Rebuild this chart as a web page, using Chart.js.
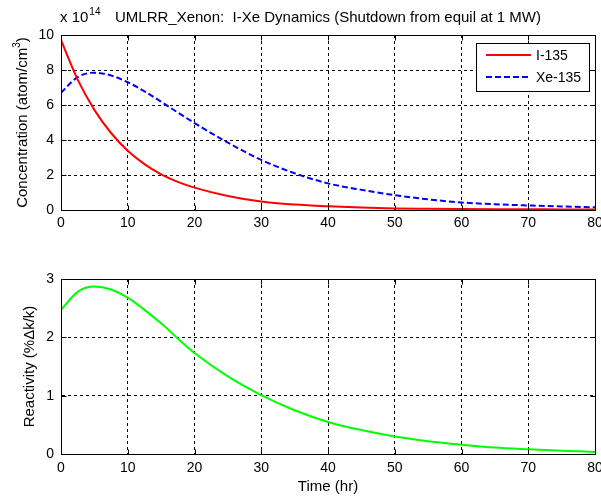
<!DOCTYPE html>
<html>
<head>
<meta charset="utf-8">
<script src="https://cdn.jsdelivr.net/npm/chart.js@4.4.0/dist/chart.umd.min.js"></script>
<style>
  html, body { margin:0; padding:0; background:#fff; }
  #wrap { position:relative; width:601px; height:497px; overflow:hidden; }
  canvas { position:absolute; left:0; }
  #c1 { top:0; }
  #c2 { top:240px; }
</style>
</head>
<body>
<div id="wrap">
  <canvas id="c1" width="601" height="248"></canvas>
  <canvas id="c2" width="601" height="257"></canvas>
</div>
<script>
// ---- data ----
const timeHr = [0, 2.5, 5, 7.5, 10, 12.5, 15, 17.5, 20, 25, 30, 35, 40, 45, 50, 55, 60, 65, 70, 75, 80];
const iodine135 = [9.7, 7.45, 5.72, 4.40, 3.38, 2.62, 2.04, 1.61, 1.28, 0.80, 0.48, 0.31, 0.21, 0.14, 0.09, 0.07, 0.055, 0.045, 0.04, 0.035, 0.03];
const xenon135 = [6.7, 7.59, 7.85, 7.69, 7.30, 6.78, 6.19, 5.57, 4.97, 3.85, 2.86, 2.10, 1.52, 1.15, 0.85, 0.61, 0.43, 0.33, 0.26, 0.20, 0.15];
const reactivity = [2.47, 2.78, 2.87, 2.82, 2.68, 2.47, 2.24, 1.98, 1.73, 1.33, 1.01, 0.75, 0.55, 0.41, 0.30, 0.22, 0.16, 0.11, 0.08, 0.055, 0.035];
const xTicks = [0, 10, 20, 30, 40, 50, 60, 70, 80];
const concTicks = [0, 2, 4, 6, 8, 10];
const reactTicks = [0, 1, 2, 3];
const seriesNames = ['I-135', 'Xe-135'];
const titleText = 'UMLRR_Xenon:  I-Xe Dynamics (Shutdown from equil at 1 MW)';

const FONT = '"Liberation Sans", Arial, sans-serif';
const pts = (ys) => timeHr.map((t, i) => ({x: t, y: ys[i]}));

function xScale(h, pad) {
  return {
    type: 'linear', min: 0, max: 80,
    afterBuildTicks: s => { s.ticks = xTicks.map(v => ({value: v})); },
    afterFit: s => { s.height = h; s.paddingRight = 0; s.paddingLeft = 0; },
    grid: { color: '#000', lineWidth: 1, drawTicks: false },
    border: { display: true, color: '#000', width: 1, dash: [3, 3] },
    ticks: { color: '#000', font: { family: FONT, size: 14 }, padding: pad, maxRotation: 0 }
  };
}
function yScale(min, max, ticks) {
  return {
    type: 'linear', min: min, max: max,
    afterBuildTicks: s => { s.ticks = ticks.map(v => ({value: v})); },
    afterFit: s => { s.width = 61; s.paddingTop = 0; s.paddingBottom = 0; },
    grid: { color: '#000', lineWidth: 1, drawTicks: false },
    border: { display: true, color: '#000', width: 1, dash: [3, 3] },
    ticks: { color: '#000', font: { family: FONT, size: 14 }, padding: 7 }
  };
}

const framePlugin = {
  id: 'frame',
  afterDraw(chart) {
    const a = chart.chartArea, ctx = chart.ctx;
    const L = Math.round(a.left) + 0.5, R = Math.round(a.right) + 0.5;
    const T = Math.round(a.top) + 0.5, B = Math.round(a.bottom) + 0.5;
    ctx.save();
    ctx.strokeStyle = '#000'; ctx.lineWidth = 1; ctx.setLineDash([]);
    ctx.strokeRect(L, T, R - L, B - T);
    const tl = 5;
    ctx.beginPath();
    chart.scales.x.ticks.forEach(t => {
      const px = Math.round(chart.scales.x.getPixelForValue(t.value)) + 0.5;
      ctx.moveTo(px, B); ctx.lineTo(px, B - tl);
      ctx.moveTo(px, T); ctx.lineTo(px, T + tl);
    });
    chart.scales.y.ticks.forEach(t => {
      const py = Math.round(chart.scales.y.getPixelForValue(t.value)) + 0.5;
      ctx.moveTo(L, py); ctx.lineTo(L + tl, py);
      ctx.moveTo(R, py); ctx.lineTo(R - tl, py);
    });
    ctx.stroke();
    ctx.restore();
  }
};

const topText = {
  id: 'topText',
  afterDraw(chart) {
    const ctx = chart.ctx, a = chart.chartArea;
    ctx.save();
    ctx.fillStyle = '#000';
    ctx.textBaseline = 'alphabetic';
    // exponent
    ctx.font = '15px ' + FONT;
    ctx.textAlign = 'left';
    ctx.fillText('x 10', 60, 22);
    const w = ctx.measureText('x 10').width;
    ctx.font = '10px ' + FONT;
    ctx.fillText('14', 60 + w + 1, 15);
    // title
    ctx.font = '15px ' + FONT;
    ctx.fillText(titleText, 115, 22);
    // y label
    ctx.translate(27, (a.top + a.bottom) / 2);
    ctx.rotate(-Math.PI / 2);
    ctx.font = '15px ' + FONT;
    const main = 'Concentration (atom/cm';
    const mw = ctx.measureText(main).width;
    ctx.font = '10px ' + FONT; const sw = ctx.measureText('3').width;
    ctx.font = '15px ' + FONT; const pw = ctx.measureText(')').width;
    let x0 = -(mw + sw + pw) / 2;
    ctx.textAlign = 'left';
    ctx.fillText(main, x0, 0);
    ctx.font = '10px ' + FONT;
    ctx.fillText('3', x0 + mw, -7);
    ctx.font = '15px ' + FONT;
    ctx.fillText(')', x0 + mw + sw, 0);
    ctx.restore();

    // legend
    ctx.save();
    const lx = 476, ly = 43, lw = 113, lh = 48;
    ctx.fillStyle = '#fff';
    ctx.fillRect(lx, ly, lw, lh);
    ctx.strokeStyle = '#000'; ctx.lineWidth = 1;
    ctx.strokeRect(lx + 0.5, ly + 0.5, lw, lh);
    const ds = chart.data.datasets;
    const rows = [55, 77];
    ds.forEach((d, i) => {
      ctx.strokeStyle = d.borderColor; ctx.lineWidth = 2;
      ctx.setLineDash(d.borderDash || []);
      ctx.beginPath(); ctx.moveTo(486, rows[i]); ctx.lineTo(531, rows[i]); ctx.stroke();
      ctx.setLineDash([]);
      ctx.fillStyle = '#000'; ctx.font = '14px ' + FONT;
      ctx.textAlign = 'left'; ctx.textBaseline = 'middle';
      ctx.fillText(d.label, 536, rows[i] + 1);
    });
    ctx.restore();
  }
};

const bottomText = {
  id: 'bottomText',
  afterDraw(chart) {
    const ctx = chart.ctx, a = chart.chartArea;
    ctx.save();
    ctx.fillStyle = '#000';
    ctx.font = '15px ' + FONT;
    ctx.textAlign = 'center'; ctx.textBaseline = 'middle';
    ctx.fillText('Time (hr)', (a.left + a.right) / 2, 247);
    ctx.translate(30, (a.top + a.bottom) / 2);
    ctx.rotate(-Math.PI / 2);
    ctx.fillText('Reactivity (%Δk/k)', 0, 0);
    ctx.restore();
  }
};

const common = {
  responsive: false, animation: false,
  plugins: { legend: { display: false }, tooltip: { enabled: false } },
  elements: { point: { radius: 0 }, line: { cubicInterpolationMode: 'monotone' } }
};

new Chart(document.getElementById('c1'), {
  type: 'line',
  data: { datasets: [
    { label: seriesNames[0], data: pts(iodine135), borderColor: '#ff0000', borderWidth: 2, fill: false },
    { label: seriesNames[1], data: pts(xenon135), borderColor: '#0000ff', borderWidth: 2, borderDash: [6, 3], fill: false }
  ]},
  options: Object.assign({}, common, {
    layout: { padding: { left: 0, right: 6, top: 35, bottom: 0 } },
    scales: { x: xScale(38, 5), y: yScale(0, 10, concTicks) }
  }),
  plugins: [framePlugin, topText]
});

new Chart(document.getElementById('c2'), {
  type: 'line',
  data: { datasets: [
    { label: 'Reactivity', data: pts(reactivity), borderColor: '#00ff00', borderWidth: 2, fill: false }
  ]},
  options: Object.assign({}, common, {
    layout: { padding: { left: 0, right: 6, top: 39, bottom: 0 } },
    scales: { x: xScale(43, 6), y: yScale(0, 3, reactTicks) }
  }),
  plugins: [framePlugin, bottomText]
});
</script>
</body>
</html>
